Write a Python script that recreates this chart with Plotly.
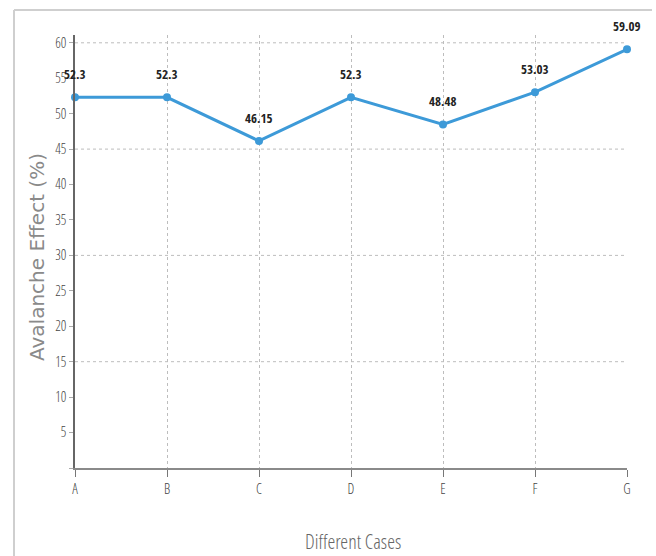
import plotly.graph_objects as go

# Avalanche effect per test case
cases = ["A", "B", "C", "D", "E", "F", "G"]
effect = [52.3, 52.3, 46.15, 52.3, 48.48, 53.03, 59.09]

y_ticks = list(range(0, 61, 5))
y_tick_text = ["" if v == 0 else str(v) for v in y_ticks]
grid_levels = [15, 30, 45, 60]

W, H = 656, 556
L, R, T, B = 75, 29, 35, 88
Y_MAX = 61.1

cond_bold = "Open Sans Condensed, Liberation Sans Narrow, Open Sans, sans-serif"
cond_light = "Open Sans Condensed Light, Open Sans Condensed, Liberation Sans Narrow, Open Sans, sans-serif"
line_blue = "#3d9ad8"

# pixel -> paper helpers
pw, ph = W - L - R, H - T - B
def px_x(p):
    return (p - L) / pw
def px_y(p):
    return (H - B - p) / ph

fig = go.Figure()
fig.add_trace(go.Scatter(
    x=cases, y=effect, mode="lines+markers",
    line=dict(color=line_blue, width=3),
    marker=dict(color=line_blue, size=8),
    cliponaxis=False, showlegend=False, hoverinfo="x+y",
))

for c, v in zip(cases, effect):
    fig.add_annotation(
        x=c, y=v, text=f"{v:g}", showarrow=False, yshift=23,
        font=dict(family=cond_bold, size=13, color="#222"),
    )

# dotted horizontal grid every 15 units
for g in grid_levels:
    fig.add_shape(type="line", xref="paper", yref="y", layer="below",
                  x0=0, x1=1, y0=g, y1=g,
                  line=dict(color="#bdbdbd", width=1, dash="dot"))

# axis titles
fig.add_annotation(
    xref="paper", yref="paper", x=px_x(353), y=px_y(541),
    text="Different Cases", showarrow=False, xanchor="center", yanchor="middle",
    font=dict(family=cond_light, size=20, color="#666", weight=300),
)
fig.add_annotation(
    xref="paper", yref="paper", x=px_x(37), y=px_y(257),
    text="Avalanche Effect (%)", showarrow=False, textangle=-90,
    xanchor="center", yanchor="middle",
    font=dict(family="DejaVu Sans, sans-serif", size=20, color="#8a8a8a"),
)

fig.update_layout(
    width=W, height=H,
    margin=dict(l=L, r=R, t=T, b=B),
    paper_bgcolor="white", plot_bgcolor="white",
    xaxis=dict(
        type="category", range=[0, 6], automargin=False,
        showline=True, linecolor="#8a8a8a", linewidth=2,
        ticks="outside", ticklen=7, tickcolor="#777", tickwidth=1,
        showgrid=True, gridcolor="#bdbdbd", griddash="dot", gridwidth=1,
        tickfont=dict(family=cond_light, size=14, color="#444", weight=300),
        zeroline=False,
    ),
    yaxis=dict(
        range=[0, Y_MAX], tickvals=y_ticks, ticktext=y_tick_text, automargin=False,
        showline=True, linecolor="#666", linewidth=1.5,
        ticks="outside", ticklen=4, tickcolor="#aaa",
        showgrid=False, zeroline=False,
        tickfont=dict(family=cond_light, size=14, color="#444", weight=300),
    ),
)

# outer frame (top and left edges)
fig.add_shape(type="line", xref="paper", yref="paper",
              x0=px_x(14), x1=px_x(652), y0=px_y(10), y1=px_y(10),
              line=dict(color="#cfcfcf", width=2))
fig.add_shape(type="line", xref="paper", yref="paper",
              x0=px_x(14), x1=px_x(14), y0=px_y(10), y1=px_y(556),
              line=dict(color="#cfcfcf", width=2))

fig.write_html("out.html")
